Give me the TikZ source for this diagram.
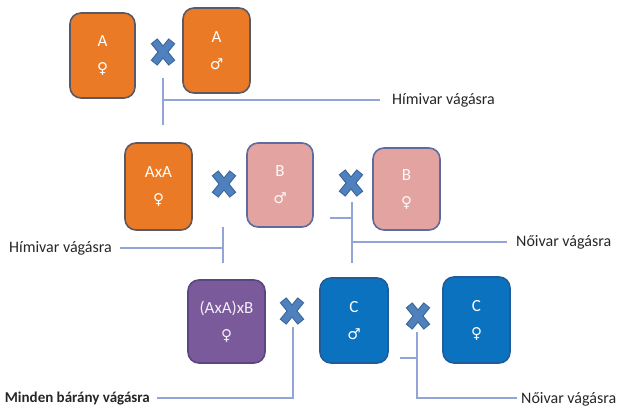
\documentclass[tikz,border=0pt]{standalone}
\usepackage{fontspec}
\setmainfont{Carlito}
\newfontfamily\symf{DejaVu Sans}
\definecolor{orng}{HTML}{EB7A26}
\definecolor{orngb}{HTML}{5A5A66}
\definecolor{pink}{HTML}{E3A3A1}
\definecolor{pinkb}{HTML}{5E6B9E}
\definecolor{purp}{HTML}{7A5A9B}
\definecolor{purpb}{HTML}{5A4680}
\definecolor{blu}{HTML}{0B72C0}
\definecolor{blub}{HTML}{1F5C99}
\definecolor{crossf}{HTML}{4F81BD}
\definecolor{crossb}{HTML}{3A679E}
\definecolor{linkc}{HTML}{93A4D6}
\tikzset{
  box/.style={rounded corners=11pt, line width=1.6pt, text=white, align=center,
    font=\fontsize{17}{27}\selectfont, inner sep=0pt},
  orbox/.style={box, fill=orng, draw=orngb},
  pkbox/.style={box, fill=pink, draw=pinkb, text=white!92!pink},
  pubox/.style={box, fill=purp, draw=purpb, text=white!90!purp},
  blbox/.style={box, fill=blu, draw=blub},
  link/.style={draw=linkc, line width=1.4pt},
  lbl/.style={font=\fontsize{16}{18}\selectfont, text=black!85, inner sep=0pt},
  mult/.pic={
    \draw[line width=8.6pt, draw=crossb] (-9,-11)--(9,11) (-9,11)--(9,-11);
    \draw[line width=6.4pt, draw=crossf] (-8.3,-10.2)--(8.3,10.2) (-8.3,10.2)--(8.3,-10.2);
  }
}
\newcommand{\fem}{{\symf\fontsize{15}{27}\selectfont ♀}}
\newcommand{\mal}{{\symf\fontsize{15}{27}\selectfont ♂}}
\begin{document}
\begin{tikzpicture}[x=1pt,y=-1pt]
\useasboundingbox (0,0) rectangle (625,407);
% boxes
\node[orbox, minimum width=65pt, minimum height=85pt] (a1) at (102.5,55.5) {A\\\fem};
\node[orbox, minimum width=67pt, minimum height=85pt] (a2) at (216.5,50.5) {A\\\mal};
\node[orbox, minimum width=67pt, minimum height=87pt] (b1) at (158.5,186.5) {AxA\\\fem};
\node[pkbox, minimum width=66pt, minimum height=84pt] (b2) at (280,185) {B\\\mal};
\node[pkbox, minimum width=67pt, minimum height=82pt] (b3) at (406.5,189) {B\\\fem};
\node[pubox, minimum width=77pt, minimum height=83pt] (c1) at (226.5,321.5) {(AxA)xB\\\fem};
\node[blbox, minimum width=68pt, minimum height=85pt] (c2) at (354,320.5) {C\\\mal};
\node[blbox, minimum width=67pt, minimum height=86pt] (c3) at (476.5,320) {C\\\fem};
% crosses
\node[coordinate] (x1) at (163,52) {};
\node[coordinate] (x2) at (224,184) {};
\node[coordinate] (x3) at (351,183) {};
\node[coordinate] (x4) at (292,311) {};
\node[coordinate] (x5) at (418,316) {};
\foreach \c in {x1,x2,x3,x4,x5} \pic at (\c) {mult};
% labels
\node[lbl, anchor=west] (l1) at (392,100) {Hímivar vágásra};
\node[lbl, anchor=east] (l2) at (112,248) {Hímivar vágásra};
\node[lbl, anchor=west] (l3) at (516,242) {Nőivar vágásra};
\node[lbl, anchor=east, font=\bfseries\fontsize{15}{18}\selectfont] (l4) at (150,399) {Minden bárány vágásra};
\node[lbl, anchor=west] (l5) at (521,399) {Nőivar vágásra};
% connector points
\coordinate (p1a) at (163,78); \coordinate (p1b) at (163,125); \coordinate (p1c) at (163,100); \coordinate (p1d) at (380,100);
\coordinate (p2a) at (223,227); \coordinate (p2b) at (223,263); \coordinate (p2c) at (223,248); \coordinate (p2d) at (120,248);
\coordinate (p3a) at (352,202); \coordinate (p3b) at (352,263); \coordinate (p3c) at (352,242); \coordinate (p3d) at (507,242);
\coordinate (p3e) at (330,218); \coordinate (p3f) at (352,218);
\coordinate (p4a) at (293,327); \coordinate (p4b) at (293,398); \coordinate (p4d) at (157,398);
\coordinate (p5a) at (417,332); \coordinate (p5b) at (417,398); \coordinate (p5d) at (517,398);
\coordinate (p5e) at (400,358); \coordinate (p5f) at (417,358);
% connectors
\draw[link] (p1a) -- (p1b);  \draw[link] (p1c) -- (p1d);
\draw[link] (p2a) -- (p2b);  \draw[link] (p2c) -- (p2d);
\draw[link] (p3a) -- (p3b);  \draw[link] (p3c) -- (p3d);  \draw[link] (p3e) -- (p3f);
\draw[link] (p4a) -- (p4b) -- (p4d);
\draw[link] (p5a) -- (p5b) -- (p5d);  \draw[link] (p5e) -- (p5f);
\end{tikzpicture}
\end{document}
